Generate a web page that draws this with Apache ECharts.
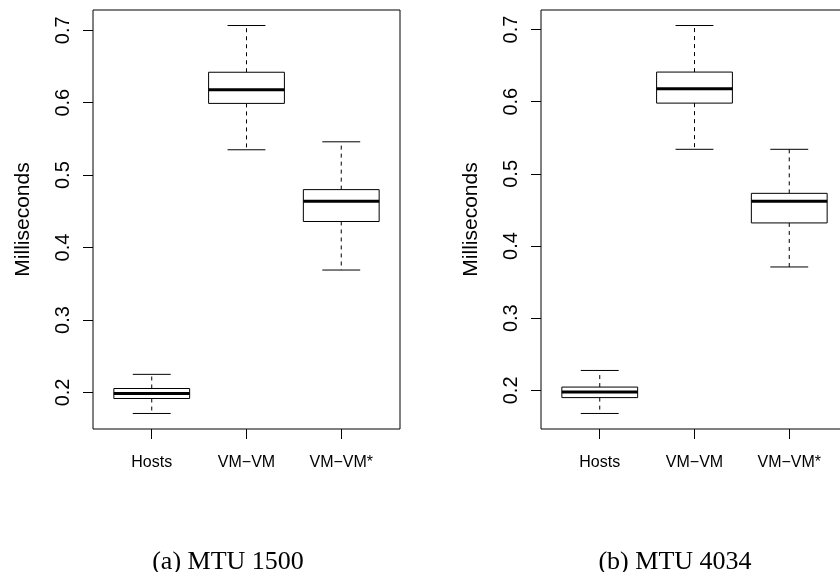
<!DOCTYPE html>
<html><head><meta charset="utf-8">
<script src="https://cdn.jsdelivr.net/npm/echarts@6/dist/echarts.min.js"></script>
<style>html,body{margin:0;padding:0;background:#fff;overflow:hidden}#c{width:900px;height:572px}</style>
</head><body><div id="c"></div>
<script>
const categories = ['Hosts', 'VM\u2212VM', 'VM\u2212VM*'];
const categoryPositions = [1, 2, 3];
const yTicks = [0.2, 0.3, 0.4, 0.5, 0.6, 0.7];
const captions = ['(a) MTU 1500', '(b) MTU 4034'];

// Panel (a) MTU 1500
const mtu1500Min    = [0.171, 0.535, 0.369];
const mtu1500Q1     = [0.1917, 0.599, 0.436];
const mtu1500Median = [0.1986, 0.618, 0.464];
const mtu1500Q3     = [0.2055, 0.642, 0.480];
const mtu1500Max    = [0.225, 0.7065, 0.546];

// Panel (b) MTU 4034
const mtu4034Min    = [0.168, 0.534, 0.371];
const mtu4034Q1     = [0.190, 0.598, 0.432];
const mtu4034Median = [0.1977, 0.618, 0.462];
const mtu4034Q3     = [0.2046, 0.641, 0.473];
const mtu4034Max    = [0.2276, 0.7055, 0.534];

function buildRows(mn, q1, md, q3, mx) {
  return categoryPositions.map((x, i) => [x, mn[i], q1[i], md[i], q3[i], mx[i]]);
}
function yRange(mn, mx) {
  const lo = Math.min(...mn), hi = Math.max(...mx), r = hi - lo;
  return [lo - 0.04 * r, hi + 0.04 * r];
}

function renderBox(params, api) {
  const x = api.value(0);
  const pLo = api.coord([x, api.value(1)]);
  const pQ1 = api.coord([x, api.value(2)]);
  const pMd = api.coord([x, api.value(3)]);
  const pQ3 = api.coord([x, api.value(4)]);
  const pHi = api.coord([x, api.value(5)]);
  const hb = api.size([0.4, 0])[0];
  const hc = api.size([0.2, 0])[0];
  const cx = pMd[0];
  const solid = { stroke: '#000', lineWidth: 1 };
  const dashed = { stroke: '#000', lineWidth: 1, lineDash: [4, 4] };
  return {
    type: 'group',
    children: [
      { type: 'line', shape: { x1: cx, y1: pQ1[1], x2: cx, y2: pLo[1] }, style: dashed },
      { type: 'line', shape: { x1: cx, y1: pQ3[1], x2: cx, y2: pHi[1] }, style: dashed },
      { type: 'line', shape: { x1: cx - hc, y1: pLo[1], x2: cx + hc, y2: pLo[1] }, style: solid },
      { type: 'line', shape: { x1: cx - hc, y1: pHi[1], x2: cx + hc, y2: pHi[1] }, style: solid },
      { type: 'rect', shape: { x: cx - hb, y: pQ3[1], width: 2 * hb, height: pQ1[1] - pQ3[1] },
        style: { fill: '#fff', stroke: '#000', lineWidth: 1 } },
      { type: 'line', shape: { x1: cx - hb, y1: pMd[1], x2: cx + hb, y2: pMd[1] },
        style: { stroke: '#000', lineWidth: 3 } }
    ]
  };
}

const panels = [
  buildRows(mtu1500Min, mtu1500Q1, mtu1500Median, mtu1500Q3, mtu1500Max),
  buildRows(mtu4034Min, mtu4034Q1, mtu4034Median, mtu4034Q3, mtu4034Max)
];
const ranges = [yRange(mtu1500Min, mtu1500Max), yRange(mtu4034Min, mtu4034Max)];
const gridLefts = [93, 541];
const captionCenters = [223, 670];

const axisFont = 'Liberation Sans, Arial, sans-serif';

const option = {
  animation: false,
  backgroundColor: '#fff',
  title: captions.map((t, i) => ({
    text: t, left: captionCenters[i], top: 544, textAlign: 'center',
    textStyle: { fontFamily: 'Liberation Serif, Times New Roman, serif', fontSize: 26, fontWeight: 'normal', color: '#000' }
  })),
  grid: gridLefts.map(l => ({
    left: l, top: 10, width: 307, height: 419, outerBoundsMode: 'none', containLabel: false,
    show: true, borderColor: '#000', borderWidth: 1, backgroundColor: 'transparent'
  })),
  xAxis: gridLefts.map((l, i) => ({
    type: 'value', gridIndex: i, min: 0.38, max: 3.62,
    axisLine: { show: false }, splitLine: { show: false },
    axisTick: { show: true, length: 10, customValues: categoryPositions, lineStyle: { color: '#000' } },
    axisLabel: { show: true, customValues: categoryPositions, margin: 26,
      formatter: v => categories[Math.round(v) - 1] || '',
      fontSize: 16, color: '#000', fontFamily: axisFont }
  })),
  yAxis: gridLefts.map((l, i) => ({
    type: 'value', gridIndex: i, min: ranges[i][0], max: ranges[i][1],
    axisLine: { show: false }, splitLine: { show: false },
    axisTick: { show: true, length: 10, customValues: yTicks, lineStyle: { color: '#000' } },
    axisLabel: { show: true, customValues: yTicks, rotate: 90, margin: 20,
      formatter: v => v.toFixed(1), fontSize: 20, color: '#000', fontFamily: axisFont },
    name: 'Milliseconds', nameLocation: 'middle', nameGap: 59,
    nameTextStyle: { fontSize: 21, color: '#000', fontFamily: axisFont }
  })),
  series: panels.map((rows, i) => ({
    type: 'custom', xAxisIndex: i, yAxisIndex: i,
    renderItem: renderBox, data: rows, clip: false
  }))
};

const chart = echarts.init(document.getElementById('c'), null, { renderer: 'canvas' });
chart.setOption(option);
</script>
</body></html>
